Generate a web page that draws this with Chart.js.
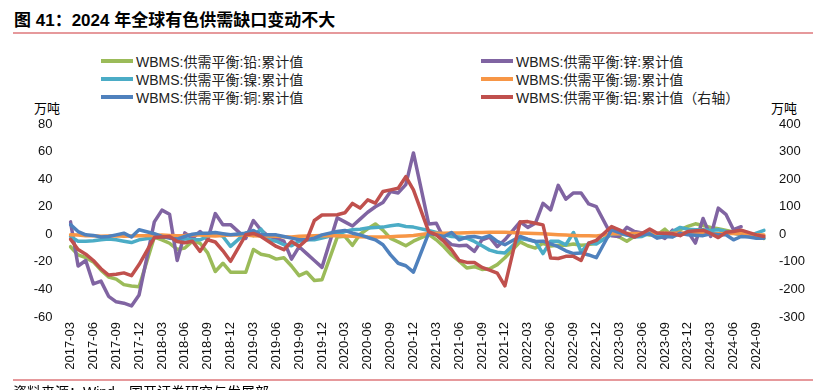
<!DOCTYPE html>
<html>
<head>
<meta charset="utf-8">
<script src="https://cdn.jsdelivr.net/npm/chart.js@4.4.1/dist/chart.umd.min.js"></script>
<style>
  body { margin: 0; background: #fff; width: 826px; height: 390px; overflow: hidden; position: relative;
         font-family: "Liberation Sans", "Noto Sans CJK SC", sans-serif; color: #000; }
  #title { position: absolute; left: 14px; top: 6px; font-size: 17px; font-weight: bold; white-space: nowrap; }
  .rule { position: absolute; left: 13px; width: 800px; height: 2px; background: #e6999c; }
  #source { position: absolute; left: 13px; top: 381px; font-size: 14px; white-space: nowrap; }
  .unit { position: absolute; top: 98px; font-size: 13px; }
  .leg { position: absolute; height: 18px; display: flex; align-items: center; font-size: 14px; color: #222; white-space: nowrap; }
  .leg i { display: inline-block; width: 32px; height: 4px; margin-right: 3px; }
  #chart { position: absolute; left: 0; top: 0; }
</style>
</head>
<body>
<div id="title">图 41：2024 年全球有色供需缺口变动不大</div>
<div class="rule" style="top:32px"></div>
<div id="legend"></div>
<div class="unit" style="left:34px">万吨</div>
<div class="unit" style="left:771px">万吨</div>
<canvas id="chart" width="826" height="390"></canvas>
<div class="rule" style="top:379px"></div>
<div id="source">资料来源：Wind，国开证券研究与发展部</div>
<script>
// months 2017-03 .. 2024-10 (January values are not published -> null)
const months = [];
for (let y = 2017; y <= 2024; y++) {
    for (let m = 1; m <= 12; m++) {
        if ((y === 2017 && m < 3) || (y === 2024 && m > 10)) continue;
        months.push(`${y}-${String(m).padStart(2, '0')}`);
    }
}

// 万吨, left axis
const lead = [-9, -15, -17, -20, -26, -31, -32.5, -36.5, -37.5, -38, null, -2, -4, -6.5, -11, -10, -5, -6.5, -13.5, -27, -21, -27.5, null, -27.5,
    -11, -14.5, -15.5, -18, -17, -23, -30, -27.5, -33.5, -33, null, -2, -1.5, -8, 0, 4, 7.5, 3, -3, -5.5, -8.3, -5, null, 0,
    -4, -9, -15, -19.5, -24.5, -23.5, -25.5, -25, -22, -17, null, -5.5, -8.3, -10, -6.5, -8.5, -8, -8, -7, -8, -7.5, -6.5, null, 0,
    -2, -5, -1.5, 0.5, -0.5, -0.5, 3.7, -1.5, 3.3, 5.7, 7.6, null, 5, 4, null, null, null, null, null, -3, -2];
const zinc = [9, -23, -19, -36, -34, -45, -49, -50, -52, -44, null, 9, 17.5, 14.5, -19, 1, -3, 2, -4, 15, 7, 7, null, -3,
    10, 3, -1.5, -3, -5, -18, -9, -14, -19, -24, null, 12, 9, 6, 11, 16, 20, 23, 31, 30, 36, 59, null, 7.5,
    8, -3, -7.5, -8.3, -8, -12.4, -4, -2, -9, -4, null, 9, 5, 8, 22.5, 17.7, 35.5, 25.5, 30, 30, 22, 20, null, -1,
    -1.6, 5, 2, 1, 2, -0.5, -3, 3, -0.5, 2, -6.4, 11.5, -1.6, 19, 14.5, 3.3, 5.5, null, null, null];
const nickel = [-1.5, -5, -5, -4.7, -4, -3.5, -4, -5, -6, -4, null, -2.3, -2, -2.3, -3.5, -3.3, -4, -4, -1.5, 1, -1.6, -8.8, null, 1,
    -1, 3.7, -4, -5, -7.6, -8.3, -5, -4, -4, -2.8, null, 0, 2, 3.3, 3.7, 4.5, 5, 5.2, 6.2, 6.9, 5.7, 5.2, null, 2.8,
    1.3, -0.4, -1.6, -2, -2.8, -5.2, -8.3, -11.5, -13, -13.6, null, -3, -4, -5.2, -14, -5, -5, -7.6, 1.3, -13, -6.4, -7, null, 0,
    0.5, -0.5, -2, -1.6, 1, -0.4, -1.6, 2, 5, 3.7, 3.3, 3.3, 2.8, 3.3, 2, 0.8, -0.4, -1.6, 0.8, 2.8];
const tin = [-0.3, -0.5, -1, -1, -1.5, -1.2, -1, -1.5, -1.3, -1, null, -0.8, -0.5, -0.8, -1, -0.8, -0.3, -0.5, -1, -1.3, -0.8, -0.5, null, -0.5,
    -1, -1.2, -1.3, -1.5, -1.8, -2, -1.5, -1.2, -1, -0.8, null, -1, -1.2, -1.5, -1.8, -2, -2, -2, -1.8, -1.5, -1.2, -0.8, null, 0.5,
    0.8, 0.8, 1, 1, 1.2, 1.3, 1.3, 1.5, 1.5, 1.5, null, 1, 0.8, 0.5, 0.3, 0, -0.3, -0.5, -0.8, -1, -1, -1.2, null, 0.3,
    0.3, 0.5, 0.5, 0.5, 0.8, 0.8, 0.8, 0.8, 1, 1, 0.5, 0.5, 0.3, 0.3, 0.5, 0.5, 0.3, 0, -0.3, -0.5];
const copper = [7, 2, -0.4, -0.8, -2, -1.6, -0.4, 0.8, -2, 3.3, null, 0.4, -1.6, -2.8, -3.5, -1.6, 0, 0.8, 0.8, 1.3, 0.4, -0.4, null, 0.8,
    2.8, -0.4, -0.4, -0.4, -1.6, -2.8, -4, -4, -2.8, -0.4, null, 2, 2.8, 0.8, -0.4, -2.3, -4, -7.6, -14.9, -21, -22.8, -27.5, null, 0.8,
    -0.4, -1.6, 1.3, -4, -2, -1.6, -2.8, -1, -5.2, -7.6, null, -1.6, -3.5, -5.2, -5, -7, -9, -12, -14, -13.5, -15, -17, null, 3.3,
    1.3, -0.4, -1.6, -0.4, 0.4, -2.8, -1.6, -2, 0.8, -0.4, null, -1, 0.4, -0.4, -0.4, -4, -1.6, -2, -2.8, -2.8];
// 万吨, right axis
const aluminium = [-18, -55, -72, -95, -125, -148, -145, -140, -150, -110, null, -12, -10, -8, -26, -31, -25, -62, -20, -28, -60, -98, null, -2,
    3, -8, -26, -44, -56, -26, -44, -20, 50, 70, null, 71, 78, 112, 95, 125, 113, 155, 161, 167, 209, 161, null, 10,
    -2, -26, -56, -95, -102, -102, -120, -130, -141, -187, null, 45, 46, 40, 34, -86, -88, -80, -80, -95, -32, -22, null, 28,
    16, null, -10, 3, 19, 4, 4, 2, -5, 10, null, 15, 3, -12, 7, 10, 15, null, -2, -8];

const leftTicks = [-60, -40, -20, 0, 20, 40, 60, 80];
const rightTicks = [-300, -200, -100, 0, 100, 200, 300, 400];

const seriesNames = ['WBMS:供需平衡:铅:累计值', 'WBMS:供需平衡:锌:累计值', 'WBMS:供需平衡:镍:累计值',
    'WBMS:供需平衡:锡:累计值', 'WBMS:供需平衡:铜:累计值', 'WBMS:供需平衡:铝:累计值（右轴）'];
const seriesColors = ['#9bbb59', '#8064a2', '#4bacc6', '#f79646', '#4f81bd', '#c0504d'];
const seriesData = [lead, zinc, nickel, tin, copper, aluminium];

// a missing January is bridged, any other missing month leaves a gap
const isJan = i => (i + 2) % 12 === 0;
function gapColor(ctx) {
    for (let k = ctx.p0DataIndex + 1; k < ctx.p1DataIndex; k++) {
        if (!isJan(k)) return 'rgba(0,0,0,0)';
    }
    return undefined;
}

const datasets = seriesData.map((data, k) => ({
    label: seriesNames[k],
    data,
    yAxisID: k === 5 ? 'y2' : 'y',
    borderColor: seriesColors[k],
    backgroundColor: seriesColors[k],
    borderWidth: 3.5,
    pointRadius: 0,
    tension: 0,
    spanGaps: true,
    borderJoinStyle: 'round',
    borderCapStyle: 'round',
    order: 6 - k,
    segment: { borderColor: gapColor }
}));

// legend in two columns
const legend = document.getElementById('legend');
datasets.forEach((ds, k) => {
    const el = document.createElement('div');
    el.className = 'leg';
    el.style.left = (k % 2 === 0 ? 101 : 481) + 'px';
    el.style.top = (52 + Math.floor(k / 2) * 18) + 'px';
    el.innerHTML = `<i style="background:${ds.borderColor}"></i>${ds.label}`;
    legend.appendChild(el);
});

const tickFont = { family: '"Liberation Sans", "Noto Sans CJK SC", sans-serif', size: 13 };

new Chart(document.getElementById('chart'), {
    type: 'line',
    data: { labels: months, datasets },
    options: {
        responsive: false,
        animation: false,
        layout: { padding: { top: 124, left: 0, right: 0, bottom: 0 } },
        plugins: { legend: { display: false }, tooltip: { enabled: false } },
        scales: {
            x: {
                offset: false,
                grid: { display: false, drawTicks: false },
                border: { display: false },
                ticks: {
                    autoSkip: false, maxRotation: 90, minRotation: 90, padding: 5,
                    color: '#111', font: tickFont,
                    callback: (v, i) => (i % 3 === 0 ? months[i] : null)
                },
                afterFit: s => { s.height = 73; }
            },
            y: {
                position: 'left', min: -60, max: 80,
                afterBuildTicks: s => { s.ticks = leftTicks.map(v => ({ value: v })); },
                grid: { display: false, drawTicks: false },
                border: { display: false },
                ticks: { padding: 18, color: '#111', font: tickFont },
                afterFit: s => { s.width = 70.5; }
            },
            y2: {
                position: 'right', min: -300, max: 400,
                afterBuildTicks: s => { s.ticks = rightTicks.map(v => ({ value: v })); },
                grid: { display: false, drawTicks: false },
                border: { display: false },
                ticks: { padding: 15, color: '#111', font: tickFont },
                afterFit: s => { s.width = 62; }
            }
        }
    }
});
</script>
</body>
</html>
